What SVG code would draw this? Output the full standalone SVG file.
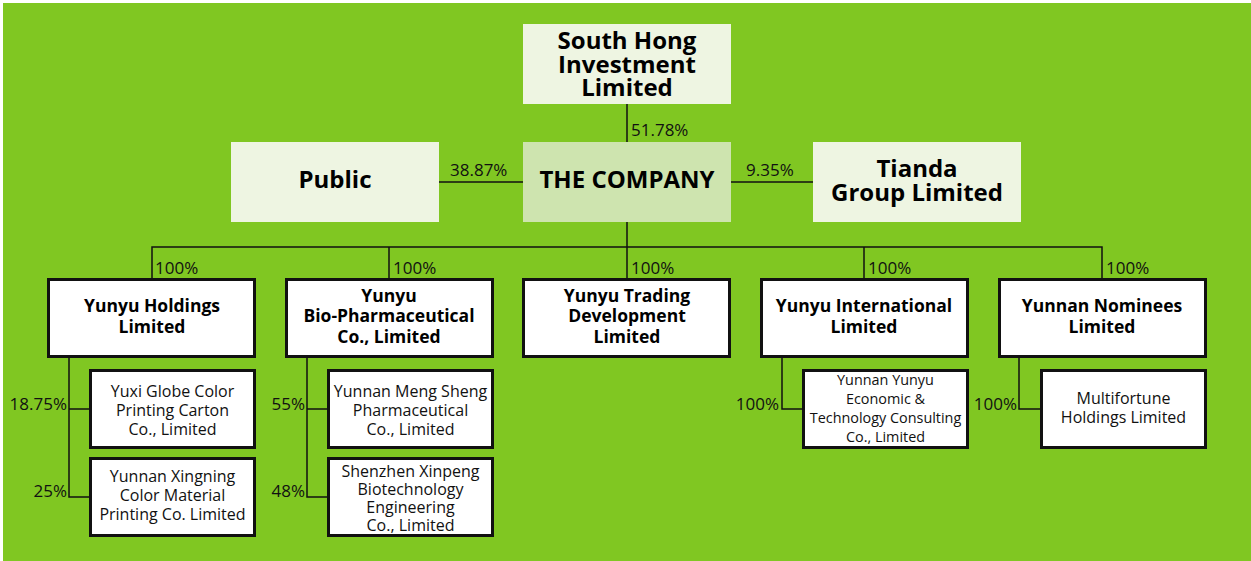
<svg xmlns="http://www.w3.org/2000/svg" width="1251" height="561" viewBox="0 0 1251 561">
  <style>
    .bg { fill: #80c722; }
    .top { fill: #eef5e2; }
    .co { fill: #cee4af; }
    .box { fill: #ffffff; stroke: #111111; stroke-width: 3; }
    .h1 { font-family: "Open Sans", "Noto Sans", sans-serif; font-weight: 700; font-size: 24px; fill: #000; text-anchor: middle; }
    .h2 { font-family: "Open Sans", "Noto Sans", sans-serif; font-weight: 700; font-size: 17.5px; fill: #000; text-anchor: middle; }
    .h3 { font-family: "Open Sans", "Noto Sans", sans-serif; font-weight: 400; font-size: 16px; fill: #111; text-anchor: middle; }
    .h4 { font-family: "Open Sans", "Noto Sans", sans-serif; font-weight: 400; font-size: 14.4px; fill: #111; text-anchor: middle; }
    .pct { font-family: "Open Sans", "Noto Sans", sans-serif; font-weight: 400; font-size: 17px; fill: #111; }
    .pr { text-anchor: end; }
    .ln { fill: none; stroke: #111111; stroke-width: 1.5; }
  </style>

  <!-- backdrop -->
  <rect class="bg" x="3" y="3" width="1248" height="558"/>

  <!-- connectors -->
  <g id="connectors">
    <path class="ln" d="M627 104 V142"/>
    <path class="ln" d="M439 182 H523"/>
    <path class="ln" d="M731 182 H813"/>
    <path class="ln" d="M627 222 V247"/>
    <path class="ln" d="M152 278 V247 H1102 V278"/>
    <path class="ln" d="M389 247 V278"/>
    <path class="ln" d="M627 247 V278"/>
    <path class="ln" d="M864 247 V278"/>
    <path class="ln" d="M69 358 V497 H89 M69 409 H89"/>
    <path class="ln" d="M307 358 V497 H327 M307 409 H327"/>
    <path class="ln" d="M782 358 V409 H802"/>
    <path class="ln" d="M1019 358 V409 H1040"/>

    <text class="pct" x="631" y="136">51.78%</text>
    <text class="pct" x="450" y="176">38.87%</text>
    <text class="pct" x="746" y="176">9.35%</text>
    <text class="pct" x="155" y="274">100%</text>
    <text class="pct" x="393" y="274">100%</text>
    <text class="pct" x="631" y="274">100%</text>
    <text class="pct" x="868" y="274">100%</text>
    <text class="pct" x="1106" y="274">100%</text>
    <text class="pct pr" x="67" y="410">18.75%</text>
    <text class="pct pr" x="67" y="497">25%</text>
    <text class="pct pr" x="305" y="410">55%</text>
    <text class="pct pr" x="305" y="497">48%</text>
    <text class="pct pr" x="779" y="410">100%</text>
    <text class="pct pr" x="1017" y="410">100%</text>
  </g>

  <!-- shareholders and the company -->
  <g id="south-hong">
    <rect class="top" x="523" y="24" width="208" height="80"/>
    <text class="h1" x="627" y="49">South Hong</text>
    <text class="h1" x="627" y="72.5">Investment</text>
    <text class="h1" x="627" y="96">Limited</text>
  </g>
  <g id="public">
    <rect class="top" x="231" y="142" width="208" height="80"/>
    <text class="h1" x="335" y="188">Public</text>
  </g>
  <g id="company">
    <rect class="co" x="523" y="142" width="208" height="80"/>
    <text class="h1" x="627" y="188">THE COMPANY</text>
  </g>
  <g id="tianda">
    <rect class="top" x="813" y="142" width="208" height="80"/>
    <text class="h1" x="917" y="177">Tianda</text>
    <text class="h1" x="917" y="200.5">Group Limited</text>
  </g>

  <!-- wholly owned subsidiaries -->
  <g id="yunyu-holdings">
    <rect class="box" x="48.5" y="279.5" width="206" height="77"/>
    <text class="h2" x="152" y="312">Yunyu Holdings</text>
    <text class="h2" x="152" y="333">Limited</text>
  </g>
  <g id="yunyu-bio">
    <rect class="box" x="286.5" y="279.5" width="206" height="77"/>
    <text class="h2" x="389" y="302">Yunyu</text>
    <text class="h2" x="389" y="322">Bio-Pharmaceutical</text>
    <text class="h2" x="389" y="343">Co., Limited</text>
  </g>
  <g id="yunyu-trading">
    <rect class="box" x="523.5" y="279.5" width="206" height="77"/>
    <text class="h2" x="627" y="302">Yunyu Trading</text>
    <text class="h2" x="627" y="322">Development</text>
    <text class="h2" x="627" y="343">Limited</text>
  </g>
  <g id="yunyu-international">
    <rect class="box" x="761.5" y="279.5" width="206" height="77"/>
    <text class="h2" x="864" y="312">Yunyu International</text>
    <text class="h2" x="864" y="333">Limited</text>
  </g>
  <g id="yunnan-nominees">
    <rect class="box" x="999.5" y="279.5" width="206" height="77"/>
    <text class="h2" x="1102" y="312">Yunnan Nominees</text>
    <text class="h2" x="1102" y="333">Limited</text>
  </g>

  <!-- associated and further subsidiaries -->
  <g id="yuxi-globe">
    <rect class="box" x="90.5" y="370.5" width="164" height="77"/>
    <text class="h3" x="172.5" y="397">Yuxi Globe Color</text>
    <text class="h3" x="172.5" y="416">Printing Carton</text>
    <text class="h3" x="172.5" y="435">Co., Limited</text>
  </g>
  <g id="yunnan-xingning">
    <rect class="box" x="90.5" y="458.5" width="164" height="77"/>
    <text class="h3" x="172.5" y="482">Yunnan Xingning</text>
    <text class="h3" x="172.5" y="501">Color Material</text>
    <text class="h3" x="172.5" y="520">Printing Co. Limited</text>
  </g>
  <g id="meng-sheng">
    <rect class="box" x="328.5" y="370.5" width="164" height="77"/>
    <text class="h3" x="410.5" y="397">Yunnan Meng Sheng</text>
    <text class="h3" x="410.5" y="416">Pharmaceutical</text>
    <text class="h3" x="410.5" y="435">Co., Limited</text>
  </g>
  <g id="shenzhen-xinpeng">
    <rect class="box" x="328.5" y="458.5" width="164" height="77"/>
    <text class="h3" x="410.5" y="477">Shenzhen Xinpeng</text>
    <text class="h3" x="410.5" y="495">Biotechnology</text>
    <text class="h3" x="410.5" y="513">Engineering</text>
    <text class="h3" x="410.5" y="531">Co., Limited</text>
  </g>
  <g id="yunnan-yunyu-consulting">
    <rect class="box" x="803.5" y="370.5" width="164" height="77"/>
    <text class="h4" x="885.5" y="385">Yunnan Yunyu</text>
    <text class="h4" x="885.5" y="404">Economic &amp;</text>
    <text class="h4" x="885.5" y="423">Technology Consulting</text>
    <text class="h4" x="885.5" y="442">Co., Limited</text>
  </g>
  <g id="multifortune">
    <rect class="box" x="1041.5" y="370.5" width="164" height="77"/>
    <text class="h3" x="1123.5" y="404">Multifortune</text>
    <text class="h3" x="1123.5" y="423">Holdings Limited</text>
  </g>
</svg>
